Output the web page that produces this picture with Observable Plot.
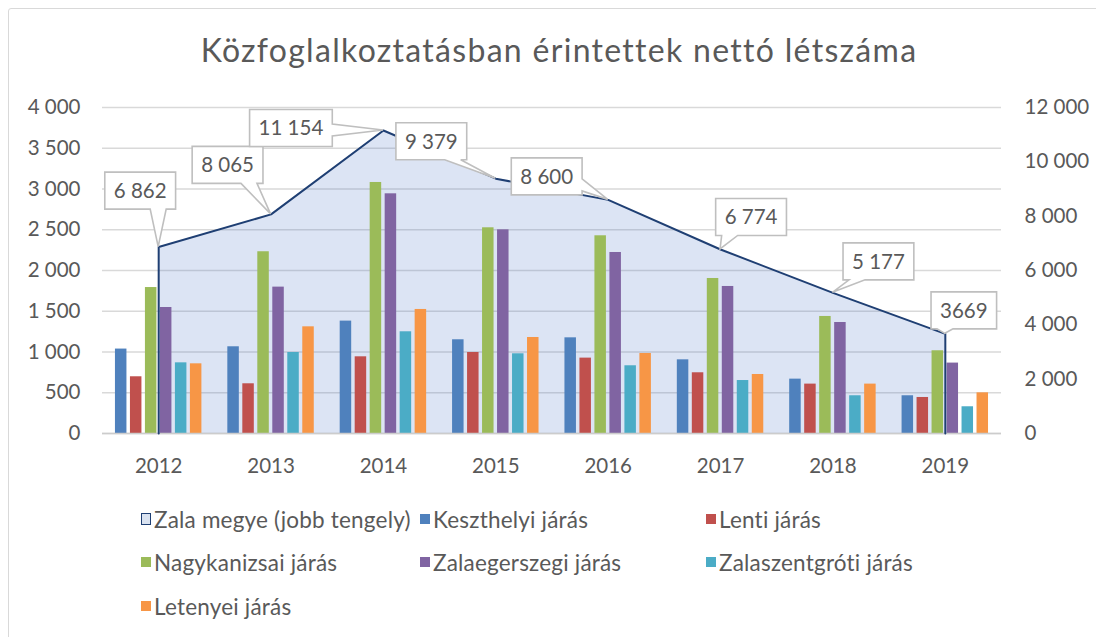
<!DOCTYPE html>
<html><head><meta charset="utf-8">
<script src="https://cdn.jsdelivr.net/npm/d3@7"></script>
<script src="https://cdn.jsdelivr.net/npm/@observablehq/plot@0.6"></script>
<style>
body{margin:0;background:#fff;font-family:Lato, sans-serif;}
#wrap{position:relative;width:1096px;height:637px;overflow:hidden;background:#fff}
#frame{position:absolute;left:8px;top:8px;width:1200px;height:800px;border:1.5px solid #d9d9d9;border-radius:3px;box-sizing:border-box}
#title{position:absolute;left:0;width:1118px;top:30px;text-align:center;font-size:32px;letter-spacing:1.3px;font-weight:400;color:#595959;white-space:nowrap}
#chart{position:absolute;left:0;top:90px}
.item{position:absolute;font-size:22.5px;letter-spacing:0.2px;color:#595959;white-space:nowrap;display:flex;align-items:center;height:28px}
.sw{width:10px;height:10px;margin-right:3px;display:inline-block;box-sizing:border-box}
</style></head>
<body><div id="wrap"><div id="frame"></div><div id="title">Közfoglalkoztatásban érintettek nettó létszáma</div><div id="chart"></div><div id="legend"></div></div>
<script>
const years = [2012, 2013, 2014, 2015, 2016, 2017, 2018, 2019];
const seriesNames = ["Keszthelyi járás", "Lenti járás", "Nagykanizsai járás", "Zalaegerszegi járás", "Zalaszentgróti járás", "Letenyei járás"];
const keszthelyi     = [1036, 1064, 1379, 1150, 1174, 904, 667, 463];
const lenti          = [696, 610, 941, 994, 925, 745, 606, 442];
const nagykanizsai   = [1791, 2230, 3080, 2524, 2426, 1902, 1436, 1015];
const zalaegerszegi  = [1546, 1796, 2941, 2499, 2221, 1804, 1362, 864];
const zalaszentgroti = [867, 994, 1248, 978, 831, 650, 463, 328];
const letenyei       = [855, 1309, 1522, 1178, 982, 724, 606, 499];
const zalaName = "Zala megye (jobb tengely)";
const zalaMegye = [6862, 8065, 11154, 9379, 8600, 6774, 5177, 3669];
const zalaLabels = ["6 862", "8 065", "11 154", "9 379", "8 600", "6 774", "5 177", "3669"];
const leftTicks = [0, 500, 1000, 1500, 2000, 2500, 3000, 3500, 4000];
const rightTicks = [0, 2000, 4000, 6000, 8000, 10000, 12000];

// styles / layout (not data)
const colors = ["#4f81bd", "#c0504d", "#9bbb59", "#8064a2", "#4bacc6", "#f79646"];
const calloutPlacement = [[-18,-56,"b"],[-43,-49,"b"],[-92,-2,"r"],[-64,-37,"b"],[-61,-23,"r"],[31,-32,"b"],[46,-31,"b"],[19,-23,"b"]];
const ratio = 3; // right axis / left axis
const groupStep = 0.1334, barW = 0.1023, groupStart = -0.3848;

const seriesValues = [keszthelyi, lenti, nagykanizsai, zalaegerszegi, zalaszentgroti, letenyei];
const barData = [];
seriesValues.forEach((vals, i) => vals.forEach((v, j) => {
  const x1 = years[j] + groupStart + i * groupStep;
  barData.push({year: years[j], series: seriesNames[i], value: v, x1, x2: x1 + barW});
}));
const areaData = years.map((y, j) => ({year: y, v: zalaMegye[j] / ratio}));
const outline = [{year: years[0], v: 0}, ...areaData, {year: years[years.length - 1], v: 0}];

const fmt = d3.formatLocale({decimal: ",", thousands: "\u00a0", grouping: [3], currency: ["", ""]}).format(",");

function callouts(index, scales) {
  const g = d3.create("svg:g");
  const ctx = document.createElement("canvas").getContext("2d");
  ctx.font = "20.5px Lato";
  const clamp = (v, a, b) => Math.max(a, Math.min(b, v));
  years.forEach((yr, i) => {
    const px = scales.x(yr), py = scales.y(zalaMegye[i] / ratio);
    const [dx, dy, side] = calloutPlacement[i];
    const tw = ctx.measureText(zalaLabels[i]).width;
    const w = tw + 18, h = 37;
    const cx = px + dx, cy = py + dy;
    const x0 = cx - w / 2, x1 = cx + w / 2, y0 = cy - h / 2, y1 = cy + h / 2;
    let d;
    if (side === "b") {
      const bc = clamp(px, x0 + 14, x1 - 14);
      d = `M${x0},${y0}H${x1}V${y1}H${bc + 8}L${px},${py}L${bc - 8},${y1}H${x0}Z`;
    } else {
      const bc = clamp(py, y0 + 10, y1 - 10);
      d = `M${x0},${y0}H${x1}V${bc - 6}L${px},${py}L${x1},${bc + 6}V${y1}H${x0}Z`;
    }
    g.append("path").attr("d", d).attr("fill", "#fff").attr("stroke", "#bfbfbf").attr("stroke-width", 1.6);
    g.append("text").attr("x", cx).attr("y", cy).attr("dy", "0.36em").attr("text-anchor", "middle")
      .attr("fill", "#595959").attr("font-size", "20.5px").attr("font-family", "Lato").text(zalaLabels[i]);
  });
  return g.node();
}

const plot = Plot.plot({
  width: 1096, height: 400,
  marginLeft: 102, marginRight: 95, marginTop: 17, marginBottom: 57,
  style: {fontFamily: "Lato", fontSize: "20.5px", color: "#595959", background: "transparent", overflow: "visible"},
  x: {type: "linear", domain: [2011.5, 2019.5]},
  y: {domain: [0, 4000]},
  color: {domain: seriesNames, range: colors},
  marks: [
    Plot.gridY(leftTicks, {stroke: "#d9d9d9", strokeOpacity: 1, strokeWidth: 1.3}),
    Plot.areaY(areaData, {x: "year", y: "v", fill: "#4472c4", fillOpacity: 0.19}),
    Plot.rect(barData, {x1: "x1", x2: "x2", y1: 0, y2: "value", fill: "series"}),
    Plot.ruleY([0], {stroke: "#cccccc", strokeWidth: 1.3}),
    Plot.line(outline, {x: "year", y: "v", stroke: "#1f3f73", strokeWidth: 2}),
    Plot.axisY(leftTicks, {anchor: "left", tickSize: 0, tickPadding: 22, tickFormat: fmt, label: null}),
    Plot.axisY(rightTicks.map(v => v / ratio), {anchor: "right", tickSize: 0, tickPadding: 23, tickFormat: d => fmt(Math.round(d * ratio)), label: null}),
    Plot.axisX(years, {anchor: "bottom", tickSize: 0, tickPadding: 25, tickFormat: d => String(d), label: null}),
    callouts
  ]
});
document.getElementById("chart").appendChild(plot);

// legend
const legendItems = [
  {name: zalaName, fill: "#dae3f1", stroke: "#1f3f73"},
  ...seriesNames.map((n, i) => ({name: n, fill: colors[i]}))
];
const colX = [141, 420, 706], rowY = [519, 562, 606];
const legend = document.getElementById("legend");
legendItems.forEach((it, k) => {
  const div = document.createElement("div");
  div.className = "item";
  div.style.left = colX[k % 3] + "px";
  div.style.top = (rowY[Math.floor(k / 3)] - 14) + "px";
  const sw = document.createElement("span");
  sw.className = "sw";
  sw.style.background = it.fill;
  if (it.stroke) { sw.style.border = "1.5px solid " + it.stroke; sw.style.height = "12px"; }
  div.appendChild(sw);
  div.appendChild(document.createTextNode(it.name));
  legend.appendChild(div);
});
</script>
</body></html>
